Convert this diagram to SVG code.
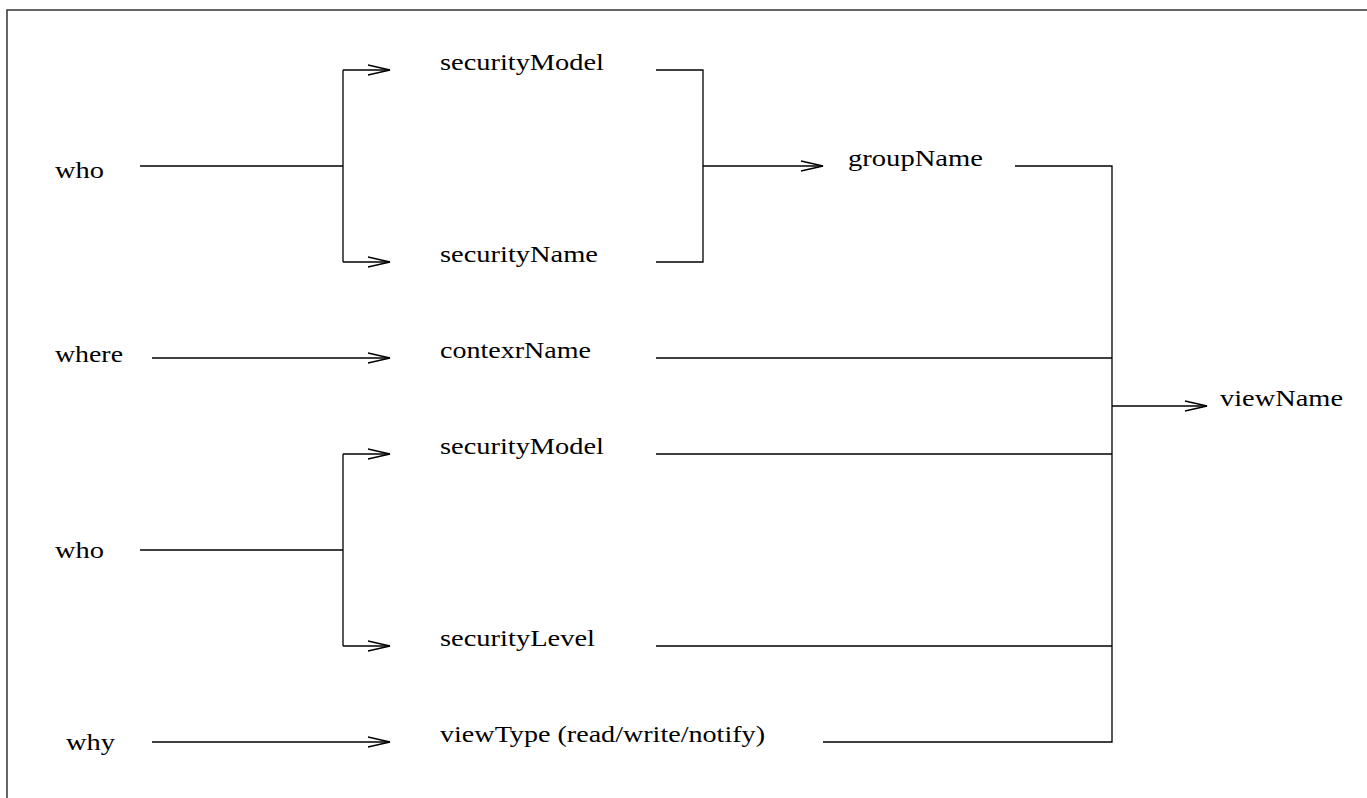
<svg xmlns="http://www.w3.org/2000/svg" width="1367" height="798" viewBox="0 0 1367 798">
<style>
text{font-family:"Liberation Serif","Times New Roman",serif;font-size:23px;fill:#000}
.c{fill:none;stroke:#000;stroke-width:1.3}
</style>
<defs>
<marker id="a" markerUnits="userSpaceOnUse" markerWidth="30" markerHeight="14" refX="23" refY="7" orient="auto" viewBox="0 0 30 14">
<path d="M1,2 L23,7 L1,12" fill="none" stroke="#000" stroke-width="1.3"/>
</marker>
</defs>
<rect x="7" y="10" width="1400" height="900" fill="#fff" stroke="#333" stroke-width="1.5"/>
<g id="connectors">
<path class="c" d="M140,166 H343 M343,70 V262"/>
<path class="c" d="M343,70 H390" marker-end="url(#a)"/>
<path class="c" d="M343,262 H390" marker-end="url(#a)"/>
<path class="c" d="M656,70 H703 V262 H656"/>
<path class="c" d="M703,166 H823" marker-end="url(#a)"/>
<path class="c" d="M152,358 H390" marker-end="url(#a)"/>
<path class="c" d="M140,550 H343 M343,454 V646"/>
<path class="c" d="M343,454 H390" marker-end="url(#a)"/>
<path class="c" d="M343,646 H390" marker-end="url(#a)"/>
<path class="c" d="M152,742 H390" marker-end="url(#a)"/>
<path class="c" d="M1015,166 H1112 V742 H823 M656,358 H1112 M656,454 H1112 M656,646 H1112"/>
<path class="c" d="M1112,406 H1207" marker-end="url(#a)"/>
</g>
<g id="who1"><text x="55" y="178" textLength="49" lengthAdjust="spacingAndGlyphs">who</text></g>
<g id="where"><text x="55" y="362" textLength="68" lengthAdjust="spacingAndGlyphs">where</text></g>
<g id="who2"><text x="55" y="558" textLength="49" lengthAdjust="spacingAndGlyphs">who</text></g>
<g id="why"><text x="66" y="750" textLength="49" lengthAdjust="spacingAndGlyphs">why</text></g>
<g id="securityModel1"><text x="440" y="70" textLength="164" lengthAdjust="spacingAndGlyphs">securityModel</text></g>
<g id="securityName"><text x="440" y="262" textLength="158" lengthAdjust="spacingAndGlyphs">securityName</text></g>
<g id="contexrName"><text x="440" y="358" textLength="151" lengthAdjust="spacingAndGlyphs">contexrName</text></g>
<g id="securityModel2"><text x="440" y="454" textLength="164" lengthAdjust="spacingAndGlyphs">securityModel</text></g>
<g id="securityLevel"><text x="440" y="646" textLength="155" lengthAdjust="spacingAndGlyphs">securityLevel</text></g>
<g id="viewType"><text x="440" y="742" textLength="325" lengthAdjust="spacingAndGlyphs">viewType (read/write/notify)</text></g>
<g id="groupName"><text x="848" y="166" textLength="135" lengthAdjust="spacingAndGlyphs">groupName</text></g>
<g id="viewName"><text x="1220" y="406" textLength="123" lengthAdjust="spacingAndGlyphs">viewName</text></g>
</svg>
